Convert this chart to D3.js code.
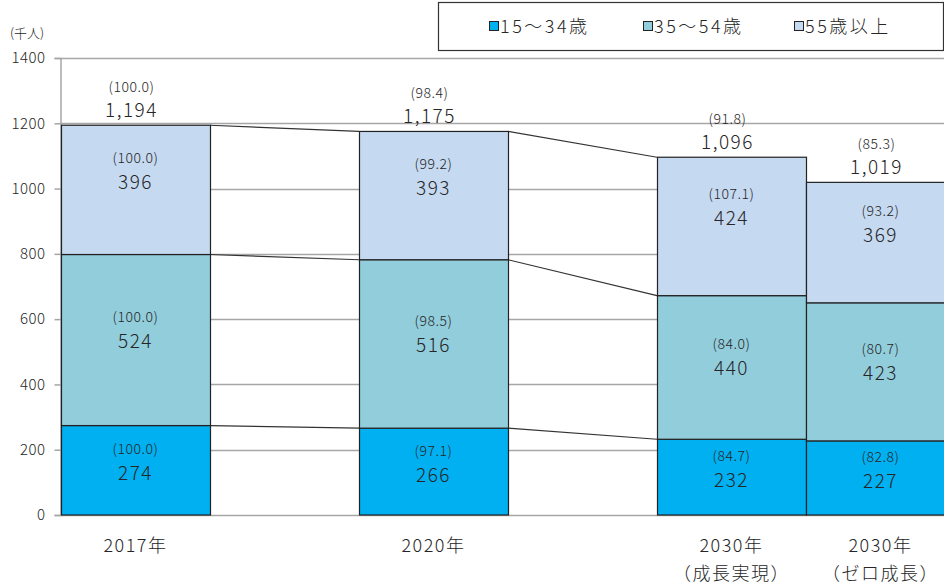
<!DOCTYPE html>
<html><head><meta charset="utf-8">
<script src="https://cdn.jsdelivr.net/npm/d3@7"></script>
<style>
html,body{margin:0;padding:0;background:#fff;}
svg{display:block;}
text{font-family:"Noto Sans CJK JP","Noto Sans",sans-serif;font-weight:300;fill:#262626;}
</style></head>
<body>
<svg id="chart" width="944" height="585"></svg>
<script>
// ---- data ----
const categories = ["2017年", "2020年", "2030年\n（成長実現）", "2030年\n（ゼロ成長）"];
const slots = ["2017年", "gap1", "2020年", "gap2", "2030年\n（成長実現）", "2030年\n（ゼロ成長）"];
const seriesNames = ["15～34歳", "35～54歳", "55歳以上"];
const young = [274, 266, 232, 227];
const middle = [524, 516, 440, 423];
const older = [396, 393, 424, 369];
const youngIdx = ["100.0", "97.1", "84.7", "82.8"];
const middleIdx = ["100.0", "98.5", "84.0", "80.7"];
const olderIdx = ["100.0", "99.2", "107.1", "93.2"];
const totals = [1194, 1175, 1096, 1019];
const totalIdx = ["100.0", "98.4", "91.8", "85.3"];
const yTicks = [0, 200, 400, 600, 800, 1000, 1200, 1400];

// ---- styles ----
const colors = ["#00b0f0", "#92cddc", "#c5d9f1"];
const labelOffset = [-8, -10, -19];

const svg = d3.select("#chart");
const x = d3.scaleBand().domain(slots).range([61, 61 + 6 * 149]).paddingInner(0).paddingOuter(0);
const y = d3.scaleLinear().domain([0, 1400]).range([515, 58]);

// gridlines
svg.append("g").selectAll("line").data(yTicks).join("line")
  .attr("x1", 60).attr("x2", 944)
  .attr("y1", d => Math.round(y(d)) + 0.5).attr("y2", d => Math.round(y(d)) + 0.5)
  .attr("stroke", "#a6a6a6").attr("stroke-width", 1.5);

// y axis
const yAxis = d3.axisLeft(y).tickValues(yTicks).tickSize(6).tickPadding(9).tickFormat(d3.format("d"));
const gy = svg.append("g").attr("transform", "translate(60.5,0)").call(yAxis);
gy.select(".domain").attr("stroke", "#a6a6a6").attr("stroke-width", 1.5);
gy.selectAll(".tick line").attr("stroke", "#a6a6a6").attr("stroke-width", 1.5);
gy.selectAll(".tick text").style("font-size", "15px").attr("fill", "#262626")
  .style("font-family", "'Noto Sans CJK JP','Noto Sans',sans-serif").style("font-weight", "300")
  .style("letter-spacing", "0.5px");

svg.append("text").attr("x", 10).attr("y", 38).style("font-size", "13px").text("(千人)");

// stacked data
const stackData = categories.map((c, i) => ({cat: c, s0: young[i], s1: middle[i], s2: older[i]}));
const stack = d3.stack().keys(["s0", "s1", "s2"])(stackData);
const idxArrays = [youngIdx, middleIdx, olderIdx];

// connectors
const pairs = [[0, 1], [1, 2]];
pairs.forEach(([a, b]) => {
  stack.forEach(layer => {
    svg.append("line")
      .attr("x1", x(categories[a]) + x.bandwidth()).attr("x2", x(categories[b]))
      .attr("y1", y(layer[a][1])).attr("y2", y(layer[b][1]))
      .attr("stroke", "#333").attr("stroke-width", 1.2);
  });
});

// bars
stack.forEach((layer, li) => {
  svg.append("g").selectAll("rect").data(layer).join("rect")
    .attr("x", d => x(d.data.cat) + 0.5)
    .attr("width", x.bandwidth())
    .attr("y", d => y(d[1]))
    .attr("height", d => y(d[0]) - y(d[1]))
    .attr("fill", colors[li]).attr("stroke", "#222").attr("stroke-width", 1.2);
});

// segment labels
stack.forEach((layer, li) => {
  layer.forEach((d, i) => {
    const cx = x(d.data.cat) + x.bandwidth() / 2;
    const cy = (y(d[0]) + y(d[1])) / 2 + labelOffset[li];
    svg.append("text").attr("x", cx).attr("y", cy - 8).attr("text-anchor", "middle")
      .style("font-size", "14px").style("letter-spacing", "0.5px").text("(" + idxArrays[li][i] + ")");
    svg.append("text").attr("x", cx).attr("y", cy + 18).attr("text-anchor", "middle")
      .style("font-size", "19px").style("letter-spacing", "1.5px").text(String(layer[i].data["s" + li]));
  });
});

// total labels
categories.forEach((c, i) => {
  const cx = x(c) + x.bandwidth() / 2;
  const top = y(totals[i]);
  svg.append("text").attr("x", cx - 4).attr("y", top - 33).attr("text-anchor", "middle")
    .style("font-size", "14px").style("letter-spacing", "0.5px").text("(" + totalIdx[i] + ")");
  svg.append("text").attr("x", cx - 4).attr("y", top - 8).attr("text-anchor", "middle")
    .style("font-size", "19px").style("letter-spacing", "1.5px").text(d3.format(",")(totals[i]));
});

// category labels
categories.forEach(c => {
  const cx = x(c) + x.bandwidth() / 2;
  const lines = c.split("\n");
  lines.forEach((ln, k) => {
    svg.append("text").attr("x", cx).attr("y", 552 + k * 28).attr("text-anchor", "middle")
      .style("font-size", "18px").style("letter-spacing", "1.5px").text(ln);
  });
});

// legend
svg.append("rect").attr("x", 438.5).attr("y", 2.5).attr("width", 505).attr("height", 48)
  .attr("fill", "#fff").attr("stroke", "#333").attr("stroke-width", 1.2);
const legX = [489, 643, 794];
seriesNames.forEach((n, i) => {
  svg.append("rect").attr("x", legX[i] + 0.5).attr("y", 21.5).attr("width", 9).attr("height", 9)
    .attr("fill", colors[i]).attr("stroke", "#222").attr("stroke-width", 1);
  svg.append("text").attr("x", legX[i] + 11).attr("y", 33).style("font-size", "18px")
    .style("letter-spacing", "2.5px").text(n);
});
</script>
</body></html>
